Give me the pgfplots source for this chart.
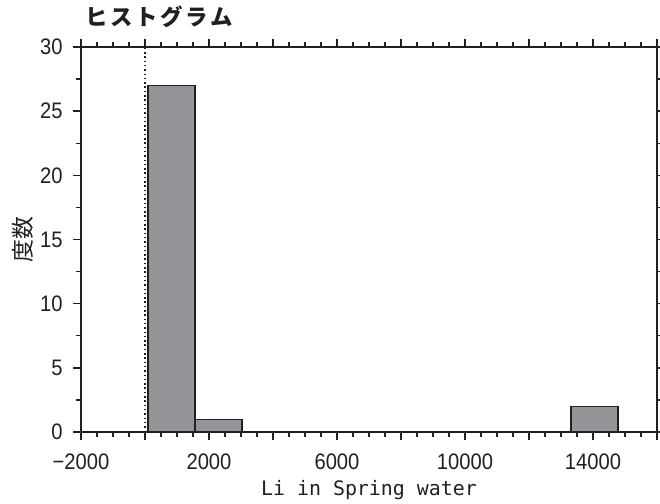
\documentclass[border=0pt]{standalone}
\usepackage{fontspec}
\usepackage{pgfplots}
\pgfplotsset{compat=1.18}
\setmainfont{Liberation Sans}
\newfontfamily\jp{Noto Sans CJK JP}
\newfontfamily\jptitle{Noto Sans CJK JP}[LetterSpace=12]
\newfontfamily\monofont{DejaVu Sans Mono}
\definecolor{barfill}{RGB}{148,149,153}
\definecolor{ink}{RGB}{35,31,32}

\begin{document}
\begin{tikzpicture}
\begin{axis}[
  at={(81bp,72bp)}, anchor=south west,
  scale only axis, width=576bp, height=385bp,
  xmin=-2000, xmax=16000, ymin=0, ymax=30,
  scaled ticks=false,
  axis line style={ink, line width=1.6bp},
  every tick/.style={ink, line width=1.4bp},
  tick align=outside,
  major tick length=8bp, minor tick length=4.5bp,
  xtick={-2000,0,...,16000},
  xticklabels={−2000,,2000,,6000,,10000,,14000,},
  minor x tick num=3,
  ytick={0,5,...,30},
  yticklabels={0,5,10,15,20,25,30},
  minor y tick num=1,
  ticklabel style={font=\fontsize{22.5}{24}\selectfont, xscale=0.9, text=ink},
  xticklabel style={yshift=-10bp},
  yticklabel style={xshift=-8bp},
  title={\jptitle\bfseries ヒストグラム},
  title style={at={(axis description cs:0,1)}, anchor=base west, inner sep=0pt,
    xshift=4bp, yshift=16bp, font=\fontsize{22.5}{24}\selectfont, text=ink},
  ylabel={\jp 度数},
  ylabel style={at={(axis description cs:-0.1016,0.5)}, anchor=center, inner sep=0pt,
    font=\fontsize{23}{24}\selectfont, text=ink},
  xlabel={\monofont Li in Spring water},
  xlabel style={at={(axis description cs:0.5,0)}, anchor=base, inner sep=0pt,
    yshift=-63bp, font=\fontsize{20}{22}\selectfont, text=ink},
]
% reference line at zero
\addplot[ink, line width=1.3bp, dash pattern=on 1.5bp off 2.8bp] coordinates {(0,0) (0,30)};
% histogram bins (width 1469)
\addplot[ybar interval, fill=barfill, draw=ink, line width=1.2bp]
  coordinates {(94,27) (1563,1) (3032,1)};
\addplot[ybar interval, fill=barfill, draw=ink, line width=1.2bp]
  coordinates {(13315,2) (14784,2)};
\end{axis}
\pgfresetboundingbox
\path[use as bounding box] (0,0) rectangle (660bp,504bp);
\end{tikzpicture}
\end{document}
